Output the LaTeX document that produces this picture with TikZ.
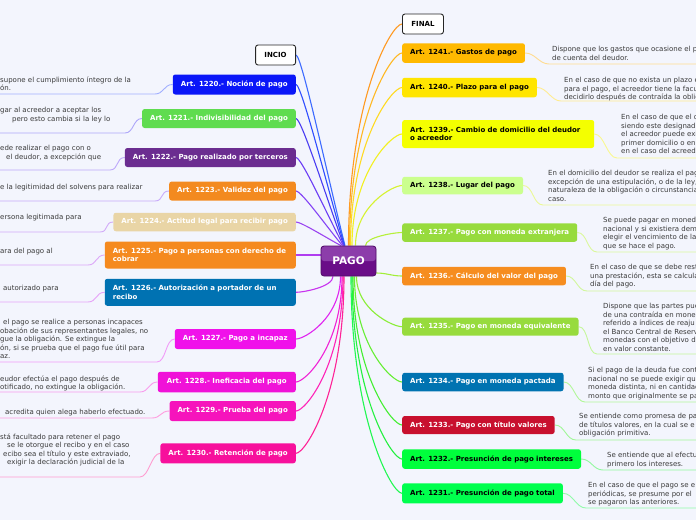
\documentclass[tikz,border=0pt]{standalone}
\usepackage{fontspec}
\setmainfont{DejaVu Sans}
\usetikzlibrary{calc,backgrounds}
\definecolor{bg}{HTML}{F3F5FD}
\definecolor{dtxt}{HTML}{3A3A3A}
\definecolor{pagotop}{HTML}{8C3DAA}
\definecolor{pagobot}{HTML}{6A0D88}
\definecolor{pagoedge}{HTML}{4E0B66}
% node fills
\definecolor{c1220}{HTML}{0A16F8}
\definecolor{c1221}{HTML}{5FDC4F}
\definecolor{c1222}{HTML}{6B2D90}
\definecolor{c1223}{HTML}{F38A1F}
\definecolor{c1224}{HTML}{E9D5A6}
\definecolor{c1225}{HTML}{F58A1F}
\definecolor{c1226}{HTML}{0072B2}
\definecolor{c1227}{HTML}{F011EA}
\definecolor{c1228}{HTML}{F012D8}
\definecolor{c1229}{HTML}{F614BC}
\definecolor{c1230}{HTML}{F7109C}
\definecolor{c1241}{HTML}{FFB900}
\definecolor{c1240}{HTML}{FFE500}
\definecolor{c1239}{HTML}{F4FF00}
\definecolor{c1238}{HTML}{CBFF8E}
\definecolor{c1237}{HTML}{97DB3D}
\definecolor{c1236}{HTML}{F68D1F}
\definecolor{c1235}{HTML}{97DB3D}
\definecolor{c1234}{HTML}{0073B1}
\definecolor{c1233}{HTML}{C8102E}
\definecolor{c1232}{HTML}{00FF3C}
\definecolor{c1231}{HTML}{00FF4E}
% connector colours
\definecolor{kInc}{HTML}{3D6BFF}
\definecolor{k1220}{HTML}{2F4DFF}
\definecolor{k1221}{HTML}{4A3CF2}
\definecolor{k1222}{HTML}{6B3CF5}
\definecolor{k1223}{HTML}{8443F5}
\definecolor{k1224}{HTML}{9A45F0}
\definecolor{k1225}{HTML}{B03DF0}
\definecolor{k1226}{HTML}{C833EF}
\definecolor{k1227}{HTML}{E025F0}
\definecolor{k1228}{HTML}{F022D6}
\definecolor{k1229}{HTML}{FF24B8}
\definecolor{k1230}{HTML}{FF2296}
\definecolor{kFin}{HTML}{FF9A22}
\definecolor{k1241}{HTML}{FFB822}
\definecolor{k1240}{HTML}{FFDA22}
\definecolor{k1239}{HTML}{F2F020}
\definecolor{k1238}{HTML}{D6F230}
\definecolor{k1237}{HTML}{B6F03A}
\definecolor{k1236}{HTML}{A2EE38}
\definecolor{k1235}{HTML}{8AEE36}
\definecolor{k1234}{HTML}{66EE34}
\definecolor{k1233}{HTML}{44EE32}
\definecolor{k1232}{HTML}{24F040}
\definecolor{k1231}{HTML}{22F852}

\newcommand\connS[3]{\draw[conn,#1] let \p1=(#2), \p2=(#3) in (\p1) .. controls ({\x1+0.12*(\x2-\x1)},\y1) and ({\x2-0.3*(\x2-\x1)},{\y2-0.3*(\y2-\y1)}) .. (\p2);}
\newcommand\connA[3]{\draw[conn,#1] let \p1=(#2), \p2=(#3) in (\p1) .. controls ({\x1+0.2*(\x2-\x1)},\y1) and (\x2,{\y2-0.66*(\y2-\y1)}) .. (\p2);}
\newcommand\dsc[4]{\node[dtext] (#1) at (#2,#3) {#4};}
\newcommand\lul[4]{\coordinate (a#1) at (-5,#2); \coordinate (b#1) at (#3,#2);
  \draw[ul,#4] (a#1) -- (b#1) .. controls +(9,0) and +(-9,0) .. (n#1.west);}
\newcommand\rul[4]{\coordinate (a#1) at (#3,#2); \coordinate (b#1) at (705,#2);
  \draw[ul,#4] (n#1.east) .. controls +(10,0) and +(-10,0) .. (a#1) -- (b#1);}

\begin{document}
\begin{tikzpicture}[x=1pt,y=-1pt,
  art/.style={rounded corners=2.5pt, inner xsep=8pt, inner ysep=0pt,
    font=\fontsize{7}{8.5}\selectfont\bfseries, text=white},
  art2/.style={art, text width=175pt, align=left},
  endbox/.style={art, fill=white, draw=black!85, line width=0.9pt, text=black,
    minimum width=40pt, minimum height=20pt},
  pagobox/.style={rounded corners=3pt, minimum width=55pt, minimum height=30pt,
    fill=pagobot, draw=pagoedge, line width=0.8pt, text=white,
    font=\fontsize{10.5}{12}\selectfont\bfseries,
    path picture={\fill[pagotop] (path picture bounding box.north west) rectangle (path picture bounding box.east);}},
  dtext/.style={anchor=north west, inner sep=0pt, align=left,
    font=\fontsize{7}{8.5}\selectfont, text=dtxt},
  conn/.style={line width=1.1pt},
  ul/.style={line width=0.9pt}]
\useasboundingbox (0,0) rectangle (696,520);

% central node
\node[pagobox] (pago) at (348.5,261) {PAGO};

% left nodes
\node[endbox, anchor=east] (incio) at (296,55) {INCIO};
\node[art, fill=c1220, minimum width=123pt, minimum height=20pt, anchor=east] (n1220) at (296,84.5) {Art. 1220.- Noción de pago};
\node[art, fill=c1221, minimum width=153pt, minimum height=19pt, anchor=east] (n1221) at (296,118.5) {Art. 1221.- Indivisibilidad del pago};
\node[art, fill=c1222, minimum width=169pt, minimum height=19pt, anchor=east] (n1222) at (296,157.5) {Art. 1222.- Pago realizado por terceros};
\node[art, fill=c1223, minimum width=125pt, minimum height=19pt, anchor=east] (n1223) at (296,191) {Art. 1223.- Validez del pago};
\node[art, fill=c1224, minimum width=180pt, minimum height=18.5pt, anchor=east] (n1224) at (296,222) {Art. 1224.- Actitud legal para recibir pago};
\node[art2, fill=c1225, minimum height=27pt, anchor=east] (n1225) at (296,255) {Art. 1225.- Pago a personas con derecho de\\cobrar};
\node[art2, fill=c1226, minimum height=27pt, anchor=east] (n1226) at (296,292.3) {Art. 1226.- Autorización a portador de un\\recibo};
\node[art, fill=c1227, minimum width=121pt, minimum height=20pt, anchor=east] (n1227) at (296,339) {Art. 1227.- Pago a incapaz};
\node[art, fill=c1228, minimum width=138pt, minimum height=20.5pt, anchor=east] (n1228) at (296,382) {Art. 1228.- Ineficacia del pago};
\node[art, fill=c1229, minimum width=126pt, minimum height=20pt, anchor=east] (n1229) at (296,411) {Art. 1229.- Prueba del pago};
\node[art, fill=c1230, minimum width=135pt, minimum height=20pt, anchor=east] (n1230) at (296,453.3) {Art. 1230.- Retención de pago};

% right nodes
\node[endbox, minimum width=41pt, anchor=west] (final) at (402,24) {FINAL};
\node[art, fill=c1241, text=black, minimum width=122pt, minimum height=19.5pt, anchor=west] (n1241) at (402,53) {Art. 1241.- Gastos de pago};
\node[art, fill=c1240, text=black, minimum width=134pt, minimum height=19.5pt, anchor=west] (n1240) at (402,87.5) {Art. 1240.- Plazo para el pago};
\node[art, fill=c1239, text=black, text width=176pt, align=left, minimum height=28pt, anchor=west] (n1239) at (402,134) {Art. 1239.- Cambio de domicilio del deudor\\o acreedor};
\node[art, fill=c1238, text=black, minimum width=117pt, minimum height=17.5pt, anchor=west] (n1238) at (402,185.5) {Art. 1238.- Lugar del pago};
\node[art, fill=c1237, minimum width=173pt, minimum height=18.5pt, anchor=west] (n1237) at (402,232.5) {Art. 1237.- Pago con moneda extranjera};
\node[art, fill=c1236, minimum width=161pt, minimum height=18.5pt, anchor=west] (n1236) at (402,276) {Art. 1236.- Cálculo del valor del pago};
\node[art, fill=c1235, minimum width=173pt, minimum height=18pt, anchor=west] (n1235) at (402,326.7) {Art. 1235.- Pago en moneda equivalente};
\node[art, fill=c1234, minimum width=159pt, minimum height=18.5pt, anchor=west] (n1234) at (402,382) {Art. 1234.- Pago en moneda pactada};
\node[art, fill=c1233, minimum width=150pt, minimum height=18pt, anchor=west] (n1233) at (402,425) {Art. 1233.- Pago con título valores};
\node[art, fill=c1232, text=black, minimum width=177pt, minimum height=19.5pt, anchor=west] (n1232) at (402,459) {Art. 1232.- Presunción de pago intereses};
\node[art, fill=c1231, text=black, minimum width=160pt, minimum height=20pt, anchor=west] (n1231) at (402,493.3) {Art. 1231.- Presunción de pago total};

% descriptions, left
\dsc{d1220}{0}{76.2}{supone el cumplimiento íntegro de la\\ón.}
\dsc{d1221}{0}{107.2}{gar al acreedor a aceptar los\\\hspace*{12pt}pero esto cambia si la ley lo}
\dsc{d1222}{0}{145.2}{ede realizar el pago con o\\\hspace*{6pt}el deudor, a excepción que}
\dsc{d1223}{0}{184.2}{e la legitimidad del solvens para realizar}
\dsc{d1224}{0}{214.2}{ersona legitimada para}
\dsc{d1225}{0}{248.2}{ara del pago al}
\dsc{d1226}{3}{285.2}{autorizado para}
\dsc{d1227}{0}{319.2}{\hspace*{3pt}el pago se realice a personas incapaces\\obación de sus representantes legales, no\\gue la obligación. Se extingue la\\ón, si se prueba que el pago fue útil para\\az.}
\dsc{d1228}{0}{375.2}{eudor efectúa el pago después de\\otificado, no extingue la obligación.}
\dsc{d1229}{5}{409.2}{acredita quien alega haberlo efectuado.}
\dsc{d1230}{0}{433.2}{stá facultado para retener el pago\\\hspace*{7pt}se le otorgue el recibo y en el caso\\\hspace*{3pt}ecibo sea el título y este extraviado,\\\hspace*{7pt}exigir la declaración judicial de la}

% descriptions, right
\dsc{d1241}{552}{46.2}{Dispone que los gastos que ocasione el p\\de cuenta del deudor.}
\dsc{d1240}{564}{77.2}{En el caso de que no exista un plazo e\\para el pago, el acreedor tiene la facu\\decidirlo después de contraída la oblig}
\dsc{d1239}{621}{114.2}{En el caso de que el d\\siendo este designad\\el acreedor puede exi\\primer domicilio o en\\en el caso del acreed}
\dsc{d1238}{548}{170.2}{En el domicilio del deudor se realiza el pag\\excepción de una estipulación, o de la ley,\\naturaleza de la obligación o circunstancia\\caso.}
\dsc{d1237}{603}{217.2}{Se puede pagar en moned\\nacional y si existiera dem\\elegir el vencimiento de la\\que se hace el pago.}
\dsc{d1236}{590}{264.2}{En el caso de que se debe rest\\una prestación, esta se calcula\\día del pago.}
\dsc{d1235}{603}{303.2}{Dispone que las partes pue\\de una contraída en mone\\referido a índices de reaju\\el Banco Central de Reserv\\monedas con el objetivo d\\en valor constante.}
\dsc{d1234}{588}{367.2}{Si el pago de la deuda fue cont\\nacional no se puede exigir qu\\moneda distinta, ni en cantidad\\monto que originalmente se pa}
\dsc{d1233}{579}{413.2}{Se entiende como promesa de pa\\de títulos valores, en la cual se e\\obligación primitiva.}
\dsc{d1232}{607}{452.2}{Se entiende que al efectu\\primero los intereses.}
\dsc{d1231}{588}{482.2}{En el caso de que el pago se e\\periódicas, se presume por el\\se pagaron las anteriores.}

\begin{pgfonlayer}{background}
\fill[bg] (0,0) rectangle (696,520);
% underlines, left
\lul{1220}{94}{155}{k1220!45}
\lul{1221}{133}{125}{k1221!45}
\lul{1222}{170}{110}{k1222!45}
\lul{1223}{201}{155}{k1223!45}
\lul{1224}{232}{100}{k1224!45}
\lul{1225}{265}{88}{k1225!45}
\lul{1226}{302}{88}{k1226!45}
\lul{1227}{362}{157}{k1227!45}
\lul{1228}{392}{140}{k1228!45}
\lul{1229}{418}{152}{k1229!45}
\lul{1230}{477}{140}{k1230!45}
% underlines, right
\rul{1241}{64}{549}{k1241!50}
\rul{1240}{101}{561}{k1240!50}
\rul{1239}{158}{617}{k1239!50}
\rul{1238}{205}{543}{k1238!50}
\rul{1237}{252}{597}{k1237!50}
\rul{1236}{291}{587}{k1236!50}
\rul{1235}{354}{597}{k1235!50}
\rul{1234}{402}{585}{k1234!50}
\rul{1233}{440}{576}{k1233!50}
\rul{1232}{470}{603}{k1232!50}
\rul{1231}{508}{586}{k1231!50}
% connectors, left
\connS{kInc}{incio.east}{[xshift=-3.5pt]pago.north}
\connS{k1220}{n1220.east}{[xshift=-4pt]pago.north}
\connS{k1221}{n1221.east}{[xshift=-4.5pt]pago.north}
\connS{k1222}{n1222.east}{[xshift=-5pt]pago.north}
\connS{k1223}{n1223.east}{[xshift=-6pt]pago.north}
\connS{k1224}{n1224.east}{[xshift=-7.5pt]pago.north}
\draw[conn,k1225] (n1225.east) .. controls +(10,0) and +(-10,0) .. ([yshift=6pt]pago.west);
\connA{k1226}{n1226.east}{[xshift=-15.5pt]pago.south}
\connA{k1227}{n1227.east}{[xshift=-8pt]pago.south}
\connA{k1228}{n1228.east}{[xshift=-6.5pt]pago.south}
\connA{k1229}{n1229.east}{[xshift=-5.5pt]pago.south}
\connA{k1230}{n1230.east}{[xshift=-4.5pt]pago.south}
% connectors, right
\connA{kFin}{final.west}{pago.north}
\connA{k1241}{n1241.west}{[xshift=1pt]pago.north}
\connA{k1240}{n1240.west}{[xshift=2pt]pago.north}
\connA{k1239}{n1239.west}{[xshift=3.5pt]pago.north}
\connA{k1238}{n1238.west}{[xshift=7pt]pago.north}
\connA{k1237}{n1237.west}{[xshift=17pt]pago.north}
\draw[conn,k1236] (n1236.west) .. controls +(-10,0) and +(10,0) .. ([yshift=-12pt]pago.east);
\connA{k1235}{n1235.west}{[xshift=8pt]pago.south}
\connA{k1234}{n1234.west}{[xshift=6pt]pago.south}
\connA{k1233}{n1233.west}{[xshift=4.5pt]pago.south}
\connA{k1232}{n1232.west}{[xshift=3.5pt]pago.south}
\connA{k1231}{n1231.west}{[xshift=2.5pt]pago.south}
\end{pgfonlayer}
\end{tikzpicture}
\end{document}
